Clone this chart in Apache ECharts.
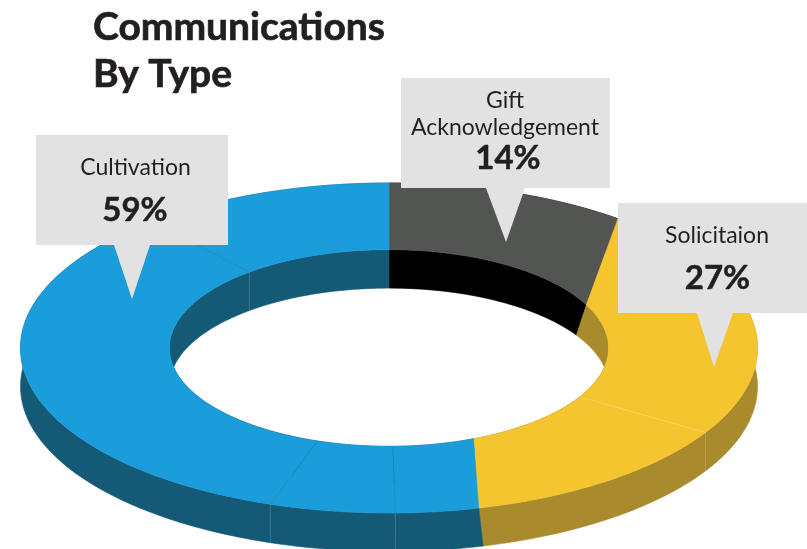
<!DOCTYPE html>
<html>
<head>
<meta charset="utf-8">
<style>html,body{margin:0;padding:0;background:#fff}#chart{width:807px;height:549px}</style>
<script src="https://cdn.jsdelivr.net/npm/echarts@6/dist/echarts.min.js"></script>
</head>
<body>
<div id="chart"></div>
<script>
var titleLines = ['Communications', 'By Type']
var categories = ['Gift\nAcknowledgement', 'Solicitaion', 'Cultivation']
var percents = [14, 27, 59]

// seam angles, degrees clockwise from 12 o'clock
var outerSeams = [0, 38.4, 120.8, 165.9, 179, 198.8, 320, 360]
var innerSeams = [0, 64, 119.8, 157.4, 179, 199, 320.5, 360]
var outerBaseSeams = [0, 38.4, 120.8, 165.2, 179, 198.8, 320, 360]
var innerBaseSeams = [0, 58.6, 119.8, 157.4, 179, 199, 320.5, 360]
var segmentCategory = [0, 1, 1, 2, 2, 2, 2]
var faintSeams = [2, 4, 5, 6]

var topColors = ['#535552', '#F5C530', '#1B9DDB']
var wallColors = ['#000000', '#A98A2D', '#145A76']
var textColor = '#231F20'
var boxColor = '#E2E2E2'

var HOLE = 0.596
var DEPTH = 0.233

var segments = segmentCategory.map(function (cat, i) {
  return [outerSeams[i], outerSeams[i + 1], innerSeams[i], innerSeams[i + 1],
    outerBaseSeams[i], outerBaseSeams[i + 1], innerBaseSeams[i], innerBaseSeams[i + 1], cat, i]
})

function ringPoint(api, deg, r, drop) {
  var t = deg * Math.PI / 180
  return api.coord([r * Math.sin(t), r * Math.cos(t) - drop])
}

function arc(api, from, to, r, drop) {
  var pts = []
  var n = Math.max(2, Math.ceil(Math.abs(to - from) / 1.5))
  for (var i = 0; i <= n; i++) {
    pts.push(ringPoint(api, from + (to - from) * i / n, r, drop))
  }
  return pts
}

function band(points, color) {
  return {
    type: 'polygon',
    shape: { points: points },
    style: { fill: color, stroke: color, lineWidth: 0.6 },
    silent: true
  }
}

function seamLine(p, q, color) {
  return {
    type: 'line',
    shape: { x1: p[0], y1: p[1], x2: q[0], y2: q[1] },
    style: { stroke: color, lineWidth: 0.7 },
    silent: true
  }
}

function renderWalls(params, api) {
  var color = wallColors[api.value(8)]
  var idx = api.value(9)
  var kids = [
    band(arc(api, api.value(2), api.value(3), HOLE, 0).concat(arc(api, api.value(7), api.value(6), HOLE, DEPTH)), color),
    band(arc(api, api.value(0), api.value(1), 1, 0).concat(arc(api, api.value(5), api.value(4), 1, DEPTH)), color)
  ]
  if (faintSeams.indexOf(idx) >= 0) {
    kids.push(seamLine(ringPoint(api, api.value(0), 1, 0), ringPoint(api, api.value(4), 1, DEPTH), 'rgba(255,255,255,0.2)'))
    kids.push(seamLine(ringPoint(api, api.value(2), HOLE, 0), ringPoint(api, api.value(6), HOLE, DEPTH), 'rgba(255,255,255,0.2)'))
  }
  return { type: 'group', children: kids }
}

function renderTop(params, api) {
  var color = topColors[api.value(8)]
  var idx = api.value(9)
  var kids = [
    band(arc(api, api.value(0), api.value(1), 1, 0).concat(arc(api, api.value(3), api.value(2), HOLE, 0)), color)
  ]
  if (faintSeams.indexOf(idx) >= 0) {
    kids.push(seamLine(ringPoint(api, api.value(0), 1, 0), ringPoint(api, api.value(2), HOLE, 0),
      idx === 2 ? 'rgba(255,240,190,0.4)' : 'rgba(10,70,100,0.3)'))
  }
  return { type: 'group', children: kids }
}

// box: x, y, w, h; tail: left, right, tip x, tip y; label and percent centres
function callout(box, tail, labelPos, pctPos, index) {
  var b = box[1] + box[3]
  return [
    {
      type: 'polygon',
      z: 10,
      shape: { points: [
        [box[0], box[1]], [box[0] + box[2], box[1]], [box[0] + box[2], b],
        [tail[1], b], [tail[2], tail[3]], [tail[0], b], [box[0], b]
      ] },
      style: { fill: boxColor }
    },
    {
      type: 'text',
      z: 11,
      x: labelPos[0],
      y: labelPos[1],
      style: {
        text: categories[index],
        fill: textColor,
        font: '400 23px Lato',
        lineHeight: 27,
        align: 'center',
        verticalAlign: 'middle'
      }
    },
    {
      type: 'text',
      z: 11,
      x: pctPos[0],
      y: pctPos[1],
      style: {
        text: percents[index] + '%',
        fill: textColor,
        stroke: textColor,
        lineWidth: 0.5,
        font: '700 33px Lato',
        align: 'center',
        verticalAlign: 'middle'
      }
    }
  ]
}

var chart = echarts.init(document.getElementById('chart'))
chart.setOption({
  animation: false,
  title: {
    text: titleLines.join('\n'),
    left: 93,
    top: 4,
    padding: 0,
    textStyle: {
      fontFamily: 'Lato',
      fontWeight: 700,
      fontSize: 39,
      lineHeight: 47,
      color: textColor,
      textBorderColor: textColor,
      textBorderWidth: 0.7
    }
  },
  grid: { left: 20.5, right: 49.5, top: 183, bottom: 0 },
  xAxis: { type: 'value', min: -1, max: 1, show: false },
  yAxis: { type: 'value', min: -1.218, max: 1, show: false },
  series: [
    { type: 'custom', coordinateSystem: 'cartesian2d', clip: false, z: 1, silent: true, renderItem: renderWalls, data: segments },
    { type: 'custom', coordinateSystem: 'cartesian2d', clip: false, z: 2, silent: true, renderItem: renderTop, data: segments }
  ],
  graphic: [].concat(
    callout([401, 78, 209, 110], [486, 525, 506, 242], [505, 114.5], [508, 158], 0),
    callout([618, 203, 189, 110], [697, 733, 714, 367], [717, 236], [717.5, 278], 1),
    callout([36, 135, 192, 110], [114, 150, 132, 299], [135.5, 168], [135, 210], 2)
  )
})
</script>
</body>
</html>
